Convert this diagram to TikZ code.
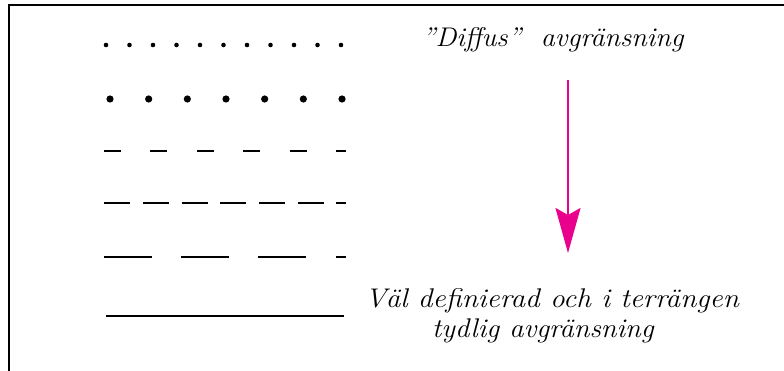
\documentclass[tikz,border=0pt]{standalone}
\usepackage{fontspec}
\usetikzlibrary{arrows.meta}
\definecolor{pinkarrow}{RGB}{233,0,140}
\tikzset{
  rowline/.style={line width=2pt, black},
  lbl/.style={font=\fontsize{27}{30}\selectfont\itshape, inner sep=0pt, anchor=base west},
  frame/.style={line width=2pt, black}
}
\begin{document}
\begin{tikzpicture}[x=1pt,y=-1pt]
\useasboundingbox (0,0) rectangle (784,371);
% frame
\draw[frame] (9,371) -- (9,5) -- (784,5);
% row 1 small dots
\foreach \i in {0,...,10} \fill ({106+23.5*\i},45) circle (2.3);
% row 2 big dots
\foreach \i in {0,...,6} \fill ({110+38.67*\i},99) circle (3.6);
% row 3 short dashes
\foreach \i in {0,...,4} \draw[rowline] ({104+46.4*\i},151) -- ({121+46.4*\i},151);
\draw[rowline] (336,151) -- (346,151);
% row 4 medium dashes
\foreach \i in {0,...,5} \draw[rowline] ({104+38.8*\i},203) -- ({130+38.8*\i},203);
\draw[rowline] (336,203) -- (346,203);
% row 5 long dashes
\foreach \i in {0,...,2} \draw[rowline] ({104+77*\i},257) -- ({152+77*\i},257);
\draw[rowline] (336,257) -- (346,257);
% row 6 solid
\draw[rowline] (106,316) -- (344,316);
% labels
\node[lbl] (t1) at (422,47) {\scalebox{1.043}[1]{"Diffus"\ \ avgränsning}};
\node[lbl] (t2) at (365,307) {\scalebox{1.084}[1]{Väl definierad och i terrängen}};
\node[lbl] (t3) at (432,337) {\scalebox{1.057}[1]{tydlig avgränsning}};
% arrow
\coordinate (a1) at (568,80);
\coordinate (a2) at (568,253);
\draw[pinkarrow, line width=2pt, -{Stealth[length=45pt,width=25pt,inset=7pt]}] (a1) -- (a2);
\end{tikzpicture}
\end{document}
